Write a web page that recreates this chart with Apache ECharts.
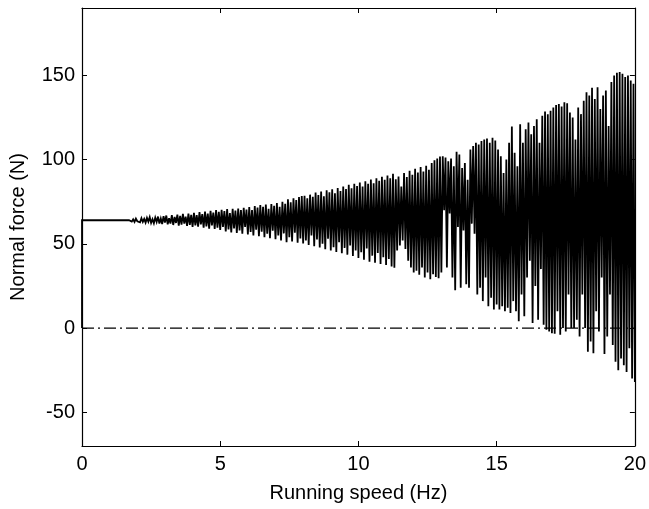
<!DOCTYPE html>
<html>
<head>
<meta charset="utf-8">
<script src="https://cdn.jsdelivr.net/npm/echarts@6/dist/echarts.min.js"></script>
<style>html,body{margin:0;padding:0;background:#fff}#c{width:649px;height:509px}</style>
</head>
<body>
<div id="c"></div>
<script>
// Tick labels
const xTicks = [0, 5, 10, 15, 20];
const yTicks = [-50, 0, 50, 100, 150];

// Start of trace (contact established at 0 Hz)
const startSpeed = [0, 0];
const startForce = [0, 64];

// Sampled trace: first sample at 1.70 Hz, one sample every 0.05 Hz
const sampleStartHz = 1.70;
const sampleStepHz = 0.05;

const force_1p7_3 = [64, 64.8, 63.2, 64.6, 63.0, 65.0, 63.4, 64.2, 62.8, 65.2, 63.0, 64.8, 62.6, 65.4, 63.2, 65.8, 62.4, 64.6, 62.2, 65.6, 63.0, 66.2, 62.0, 65.0, 61.8, 66.4, 62.6];
const force_3_4 = [66.8, 61.6, 65.2, 62.0, 67.0, 61.2, 66.0, 62.4, 67.4, 60.8, 66.6, 61.4, 67.8, 62.0, 66.2, 60.6, 68.0, 61.2, 67.2, 60.0];
const force_4_5 = [68.4, 61.0, 67.0, 60.2, 68.8, 61.6, 67.6, 59.6, 69.2, 60.4, 68.0, 59.0, 69.6, 61.0, 68.6, 58.8, 70.0, 59.6, 69.0, 58.2];
const force_5_6 = [70.2, 60.0, 69.4, 57.4, 70.6, 58.6, 68.2, 56.8, 70.8, 59.2, 69.8, 56.4, 71.0, 58.0, 70.0, 56.0, 71.4, 60.0, 70.4, 55.6];
const force_6_7 = [71.8, 57.0, 70.0, 55.0, 72.4, 58.4, 71.6, 54.6, 73.0, 57.2, 72.0, 54.0, 73.4, 56.0, 70.8, 53.4, 73.6, 57.8, 72.6, 52.8];
const force_7_8 = [74.2, 55.0, 72.0, 52.0, 75.0, 56.2, 73.8, 51.0, 76.4, 54.0, 74.6, 51.4, 77.0, 56.6, 76.0, 50.6, 77.8, 53.2, 78.4, 50.2];
const force_8_9 = [78.6, 52.0, 77.0, 49.4, 79.2, 55.0, 78.0, 48.6, 80.4, 52.6, 79.0, 47.8, 81.0, 50.0, 78.2, 46.8, 81.8, 53.0, 80.6, 46.0];
const force_9_10 = [82.4, 48.0, 80.0, 45.2, 83.2, 51.0, 81.4, 44.4, 84.0, 47.6, 82.6, 43.6, 85.0, 49.0, 83.0, 42.8, 85.6, 46.0, 84.4, 41.6];
const force_10_11 = [86.4, 45.0, 84.0, 40.6, 87.2, 47.2, 85.6, 39.4, 88.2, 43.0, 86.0, 38.8, 89.0, 44.6, 87.4, 38.0, 89.8, 42.0, 88.0, 37.4];
const force_11_12 = [90.6, 41.0, 89.0, 36.6, 91.6, 35.8, 88.4, 46.0, 90.0, 49.0, 84.0, 52.0, 92.0, 47.0, 89.6, 40.0, 93.4, 36.0, 91.0, 33.0];
const force_12_13 = [94.6, 34.0, 92.4, 31.6, 95.6, 36.0, 93.0, 30.0, 96.4, 33.0, 94.0, 29.0, 98.0, 32.0, 99.6, 30.4, 100.6, 29.6, 101.8, 33.0];
const force_13_14 = [102.0, 70.0, 101.2, 36.0, 99.0, 68.0, 100.6, 30.0, 96.0, 22.4, 104.6, 60.0, 103.0, 24.0, 95.0, 58.0, 98.0, 26.0, 88.0, 24.0];
const force_14_15 = [106.0, 62.0, 108.0, 56.0, 110.0, 20.0, 109.0, 24.0, 111.0, 16.0, 112.0, 30.0, 112.6, 13.0, 110.0, 18.0, 113.0, 11.0, 111.4, 14.0];
const force_15_16 = [106.0, 11.0, 102.0, 13.0, 92.0, 10.0, 100.0, 12.0, 110.0, 9.0, 119.6, 16.0, 104.0, 10.0, 96.0, 4.0, 121.0, 20.0, 110.0, 7.0];
const force_16_17 = [118.0, 30.0, 122.0, 40.0, 115.0, 3.0, 120.0, 25.0, 124.0, 5.0, 110.0, 35.0, 126.0, 2.0, 128.6, -1.0, 127.0, -2.0, 129.0, -3.0];
const force_17_18 = [131.0, -3.4, 132.4, 10.0, 133.0, -4.0, 131.6, 0.0, 134.0, -2.0, 133.4, 20.0, 128.0, 0.0, 125.0, 0.0, 112.0, 5.0, 131.0, -5.0];
const force_18_19 = [127.0, 20.0, 135.0, 0.0, 140.0, -14.0, 138.0, -8.0, 142.6, -15.0, 136.0, 10.0, 143.0, -2.0, 130.0, 30.0, 138.0, -15.4, 141.0, -5.0];
const force_19_20 = [120.0, 20.0, 146.0, -10.0, 150.0, -20.0, 151.6, -25.0, 152.0, -18.0, 151.0, -22.0, 149.0, -26.0, 150.0, -12.0, 147.0, -30.0, 145.0, -32.0];

// Zero reference line
const zeroSpeed = [0, 20];
const zeroForce = [0, 0];

const sampled = [].concat(force_1p7_3, force_3_4, force_4_5, force_5_6, force_6_7, force_7_8,
  force_8_9, force_9_10, force_10_11, force_11_12, force_12_13, force_13_14, force_14_15,
  force_15_16, force_16_17, force_17_18, force_18_19, force_19_20);

const traceData = startSpeed.map((s, i) => [s, startForce[i]]);
sampled.forEach((f, i) => {
  traceData.push([Math.round((sampleStartHz + i * sampleStepHz) * 100) / 100, f]);
});
const zeroData = zeroSpeed.map((s, i) => [s, zeroForce[i]]);

const font = 'Liberation Sans, Arial, sans-serif';
const axisLine = { show: true, onZero: false, lineStyle: { color: '#000', width: 1.2 } };
const chart = echarts.init(document.getElementById('c'), null, { renderer: 'canvas' });
chart.setOption({
  animation: false,
  backgroundColor: '#fff',
  grid: { left: 82, right: 11, top: 8, bottom: 63, containLabel: false },
  xAxis: [
    {
      type: 'value', min: 0, max: 20, interval: 5, position: 'bottom',
      name: 'Running speed (Hz)', nameLocation: 'middle', nameGap: 37,
      nameTextStyle: { color: '#000', fontFamily: font, fontSize: 20 },
      axisLine: axisLine,
      axisTick: { show: true, inside: true, length: 5, lineStyle: { color: '#000' } },
      axisLabel: { color: '#000', fontFamily: font, fontSize: 20, margin: 8,
        formatter: v => xTicks.includes(v) ? String(v) : '' },
      splitLine: { show: false }
    },
    {
      type: 'value', min: 0, max: 20, interval: 5, position: 'top',
      axisLine: axisLine,
      axisTick: { show: true, inside: true, length: 5, lineStyle: { color: '#000' } },
      axisLabel: { show: false }, splitLine: { show: false }
    }
  ],
  yAxis: [
    {
      type: 'value', min: -70, max: 190, position: 'left',
      name: 'Normal force (N)', nameLocation: 'middle', nameGap: 54,
      nameTextStyle: { color: '#000', fontFamily: font, fontSize: 20 },
      axisLine: axisLine,
      axisTick: { show: true, inside: true, length: 5, customValues: yTicks, lineStyle: { color: '#000' } },
      axisLabel: { color: '#000', fontFamily: font, fontSize: 20, margin: 7, customValues: yTicks },
      splitLine: { show: false }
    },
    {
      type: 'value', min: -70, max: 190, position: 'right',
      axisLine: axisLine,
      axisTick: { show: true, inside: true, length: 5, customValues: yTicks, lineStyle: { color: '#000' } },
      axisLabel: { show: false }, splitLine: { show: false }
    }
  ],
  series: [
    {
      type: 'line', data: zeroData, showSymbol: false, symbol: 'none', silent: true,
      lineStyle: { color: '#000', width: 1.4, type: [12, 4, 2, 4] }, z: 2
    },
    {
      type: 'line', data: traceData, showSymbol: false, symbol: 'none', silent: true,
      lineStyle: { color: '#000', width: 1.8, join: 'miter', miterLimit: 4 }, z: 3
    }
  ]
});
</script>
</body>
</html>
